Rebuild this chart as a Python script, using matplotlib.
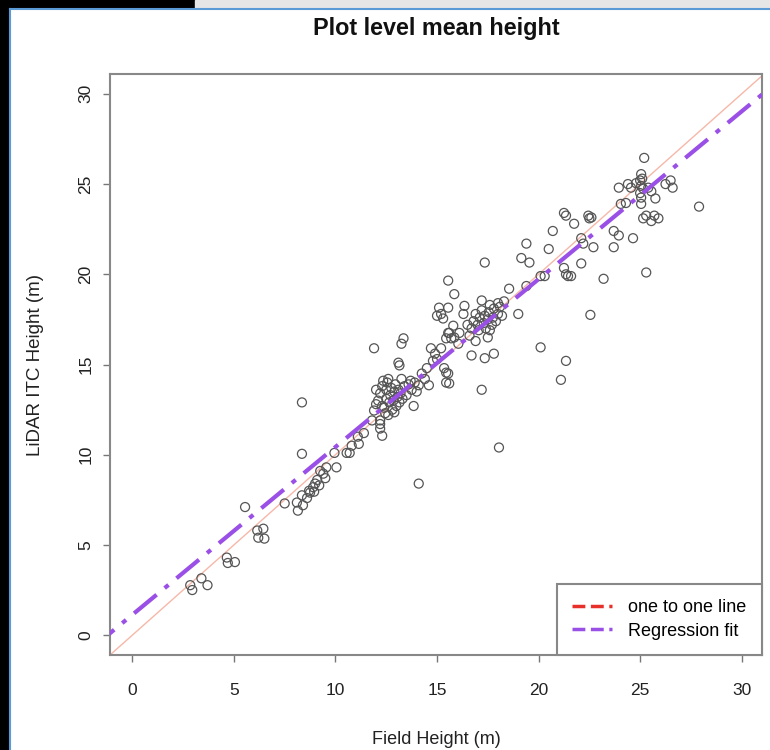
import numpy as np
import matplotlib
matplotlib.use('Agg')
import matplotlib.pyplot as plt
from matplotlib.lines import Line2D
from matplotlib.patches import Rectangle

plt.rcParams['font.family'] = ['Liberation Sans', 'DejaVu Sans']

field_height = [
    2.85, 2.95, 3.4, 3.7, 4.65, 4.7, 5.05, 5.55, 6.15, 6.2, 6.45, 6.5,
    7.5, 8.1, 8.15, 8.35, 8.4, 8.6, 8.75, 8.9, 9.0, 9.1, 9.25, 9.4, 9.5, 9.55, 8.7, 8.95, 9.2,
    8.35, 8.35,
    10.05, 9.95, 10.55, 10.7, 10.8, 11.15, 11.1, 11.4,
    12.2, 12.2, 12.3, 12.2, 11.8, 11.9, 12.0,
    11.9, 13.25, 13.35, 13.1, 13.15, 13.85, 14.1,
    12.1, 12.2, 12.3, 12.35, 12.4, 12.5, 12.5, 12.6, 12.65, 12.7, 12.75, 12.8, 12.85, 12.9,
    12.95, 13.0, 13.05, 13.1, 13.15, 13.2, 13.3, 13.4, 13.5, 13.6, 13.7, 12.45, 12.6, 12.9,
    12.3, 12.0, 12.55, 13.25, 13.75, 13.9, 14.0,
    14.25, 14.4, 14.6, 14.1, 14.5, 14.8, 14.7, 14.9, 15.0, 15.2,
    15.35, 15.55, 15.45, 15.6, 15.45, 15.55, 15.8, 15.85, 16.05, 16.1,
    15.0, 15.2, 15.1, 15.55, 16.35, 16.3, 15.3, 15.6, 15.7, 15.45, 15.55, 15.85,
    16.7, 17.35, 17.8, 17.2, 18.05,
    16.7, 16.8, 16.9, 17.0, 17.05, 17.1, 17.2, 17.2, 17.3, 17.35, 17.4, 17.5, 17.55, 17.6,
    17.7, 17.75, 17.8, 17.9, 18.0, 18.0, 18.1, 18.2, 16.6, 17.5, 16.9, 17.6, 18.3, 16.5,
    19.0, 18.55, 19.4, 20.3, 20.1, 19.15, 19.55, 19.4, 17.35,
    20.7, 20.5, 21.25, 21.45, 20.1, 21.35, 21.1,
    21.35, 21.6, 22.1, 23.2, 22.55,
    21.25, 21.35, 22.45, 22.5, 22.6, 21.75, 22.1, 22.2, 22.7,
    23.7, 23.95, 24.65, 23.7, 25.3, 25.2, 25.05,
    23.95, 24.4, 24.55, 24.8, 25.05, 25.15, 25.4, 25.55, 26.25, 26.5, 26.6,
    25.75, 27.9, 24.05, 24.3, 25.05, 25.05,
    25.15, 25.3, 25.55, 25.7, 25.9, 25.0, 25.1, 25.0,
]
lidar_height = [
    2.77, 2.5, 3.15, 2.77, 4.3, 4.0, 4.05, 7.1, 5.8, 5.4, 5.9, 5.35,
    7.3, 7.35, 6.9, 7.75, 7.2, 7.6, 7.9, 8.2, 8.4, 8.6, 9.1, 8.95, 8.7, 9.3, 8.0, 7.95, 8.3,
    10.05, 12.9,
    9.3, 10.1, 10.1, 10.1, 10.5, 10.6, 11.0, 11.2,
    11.9, 11.45, 11.05, 11.7, 11.9, 12.45, 12.8,
    15.9, 16.15, 16.45, 15.1, 14.95, 12.7, 8.4,
    13.0, 13.4, 13.8, 14.1, 12.6, 13.1, 13.6, 14.2, 12.9, 13.3, 13.7, 12.5, 13.0, 13.5,
    13.9, 12.7, 13.2, 13.6, 12.9, 13.4, 13.1, 13.8, 13.3, 13.9, 14.1, 12.3, 12.2, 12.35,
    12.7, 13.6, 14.0, 14.2, 13.6, 14.0, 13.5,
    14.5, 14.2, 13.85, 13.85, 14.8, 15.2, 15.9, 15.6, 15.3, 15.9,
    14.8, 14.5, 14.0, 13.95, 14.55, 16.75, 17.15, 16.5, 16.15, 16.75,
    17.7, 17.8, 18.15, 18.15, 18.25, 17.8, 17.55, 16.75, 16.45, 16.45, 19.65, 18.9,
    15.5, 15.35, 15.6, 13.6, 10.4,
    17.0, 17.4, 17.8, 17.2, 16.9, 17.6, 18.0, 18.55, 17.3, 17.7, 17.0, 17.5, 17.9, 18.3,
    17.2, 17.6, 18.1, 17.4, 18.4, 17.8, 18.2, 17.7, 16.6, 16.5, 16.3, 16.9, 18.5, 17.2,
    17.8, 19.2, 19.35, 19.9, 19.9, 20.9, 20.65, 21.7, 20.65,
    22.4, 21.4, 20.35, 19.9, 15.95, 15.2, 14.15,
    20.0, 19.9, 20.6, 19.75, 17.75,
    23.4, 23.25, 23.25, 23.1, 23.15, 22.8, 22.0, 21.7, 21.5,
    22.4, 22.15, 22.0, 21.5, 20.1, 26.45, 25.55,
    24.8, 25.0, 24.8, 25.05, 24.9, 24.75, 24.8, 24.6, 25.0, 25.2, 24.8,
    24.2, 23.75, 23.9, 23.95, 23.9, 24.25,
    23.1, 23.25, 22.95, 23.25, 23.1, 25.2, 25.3, 24.5,
]
# regression fit
reg_intercept = 1.13
reg_slope = 0.93
ticks = [0, 5, 10, 15, 20, 25, 30]

fig = plt.figure(figsize=(7.7, 7.5), dpi=100)
W, H = 770, 750

# screenshot frame around the R plot
fig.patches.append(Rectangle((0, 0), 9 / W, 1, transform=fig.transFigure, color='black', zorder=0))
fig.patches.append(Rectangle((0, 1 - 8 / H), 195 / W, 8 / H, transform=fig.transFigure, color='black', zorder=0))
fig.patches.append(Rectangle((195 / W, 1 - 8 / H), 1, 8 / H, transform=fig.transFigure, color='#e6e6e6', zorder=0))
fig.lines.append(Line2D([10 / W, 10 / W], [0, 1 - 9 / H], transform=fig.transFigure, color='#5b9bd5', lw=1.5))
fig.lines.append(Line2D([10 / W, 1], [1 - 9 / H, 1 - 9 / H], transform=fig.transFigure, color='#5b9bd5', lw=1.5))

ax = fig.add_axes([110 / W, 1 - 655 / H, 652 / W, 581 / H])

ax.scatter(field_height, lidar_height, s=42, facecolors='none', edgecolors='#555555', linewidths=0.9, zorder=3)

xs = np.array([-2, 32])
ax.plot(xs, xs, color='#f6b8a8', lw=1.0, zorder=2)
ax.plot(xs, reg_intercept + reg_slope * xs, color='#9a50e6', lw=3, dashes=(7, 2.5, 1.2, 2.5), zorder=4)

ax.set_xlim(-1.1, 31.0)
ax.set_ylim(-1.1, 31.1)
ax.set_xticks(ticks)
ax.set_yticks(ticks)
ax.tick_params(axis='both', length=5, width=1, color='#777777', labelsize=12.5, labelcolor='#222222')
ax.tick_params(axis='x', pad=15)
ax.tick_params(axis='y', pad=7)
for lab in ax.get_yticklabels():
    lab.set_rotation(90)
    lab.set_va('center')
for sp in ax.spines.values():
    sp.set_color('#888888')
    sp.set_linewidth(1.5)

ax.set_xlabel('Field Height (m)', fontsize=13, color='#222222', va='center')
ax.xaxis.set_label_coords(0.5, -(740 - 655) / 581, transform=ax.transAxes)
ax.set_ylabel('LiDAR ITC Height (m)', fontsize=13.5, color='#222222', va='center')
ax.yaxis.set_label_coords(-(110 - 36) / 652, 0.5, transform=ax.transAxes)
ax.set_title('Plot level mean height', fontsize=16.8, fontweight='bold', color='#111111',
             y=1 + (74 - 28) / 581, va='center', pad=0)

handles = [Line2D([], [], color='#e8302a', lw=2.5, linestyle='--'),
           Line2D([], [], color='#9a50e6', lw=2.5, linestyle='--')]
leg = ax.legend(handles, ['one to one line', 'Regression fit'], loc='lower right', borderaxespad=0,
                fancybox=False, fontsize=13, handlelength=2.2, framealpha=1,
                edgecolor='#888888', borderpad=0.85, labelspacing=0.35, handletextpad=0.9)
leg.get_frame().set_linewidth(1.5)

plt.savefig('out.png', dpi=100)
